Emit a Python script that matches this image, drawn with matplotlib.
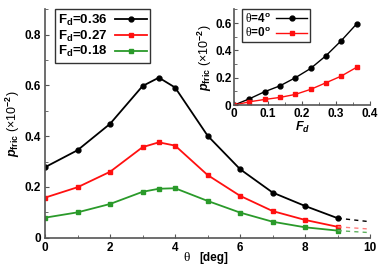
import matplotlib
matplotlib.use("Agg")
import matplotlib.pyplot as plt
from matplotlib.ticker import MultipleLocator

theta = [0, 1, 2, 3, 3.5, 4, 5, 6, 7, 8, 9]
p36 = [0.278, 0.345, 0.449, 0.598, 0.631, 0.592, 0.402, 0.270, 0.178, 0.125, 0.077]
p27 = [0.158, 0.199, 0.260, 0.357, 0.376, 0.363, 0.247, 0.165, 0.105, 0.070, 0.043]
p18 = [0.079, 0.100, 0.133, 0.181, 0.193, 0.195, 0.145, 0.099, 0.063, 0.041, 0.028]
ext_theta = [9, 10]
ext36 = [0.077, 0.063]
ext27 = [0.043, 0.034]
ext18 = [0.028, 0.020]

fd = [0, 0.045, 0.09, 0.135, 0.18, 0.225, 0.27, 0.315, 0.36]
p_t4 = [0, 0.046, 0.098, 0.141, 0.200, 0.268, 0.361, 0.471, 0.593]
p_t0 = [0, 0.024, 0.041, 0.056, 0.078, 0.115, 0.163, 0.212, 0.276]

plt.rcParams['font.family'] = ['Liberation Sans', 'DejaVu Sans']
plt.rcParams['font.weight'] = 'bold'
plt.rcParams['mathtext.fontset'] = 'custom'
plt.rcParams['mathtext.rm'] = 'Liberation Sans:bold'
plt.rcParams['mathtext.it'] = 'Liberation Sans:bold:italic'
plt.rcParams['mathtext.bf'] = 'Liberation Sans:bold'
plt.rcParams['mathtext.cal'] = 'Liberation Serif:weight=normal'

fig = plt.figure(figsize=(3.82, 2.68), dpi=100)
ax = fig.add_axes([0.118, 0.113, 0.851, 0.852])

green = '#2a9a2a'
ax.plot(theta, p36, '-o', color='black', ms=3.5, lw=1.3, label=r'F$_{\mathbf{d}}$=0.36')
ax.plot(theta, p27, '-s', color='#ff1010', ms=3.5, lw=1.3, label=r'F$_{\mathbf{d}}$=0.27')
ax.plot(theta, p18, '-s', color=green, ms=3.5, lw=1.3, label=r'F$_{\mathbf{d}}$=0.18')
ax.plot(ext_theta, ext36, '--', color='black', lw=1.0, dashes=(3, 3))
ax.plot(ext_theta, ext27, '--', color='#ff8080', lw=1.0, dashes=(3, 3))
ax.plot(ext_theta, ext18, '--', color='#60b060', lw=1.0, dashes=(3, 3))

ax.set_xlim(0, 10)
ax.set_ylim(0, 0.9)
ax.xaxis.set_major_locator(MultipleLocator(2))
ax.xaxis.set_minor_locator(MultipleLocator(1))
ax.yaxis.set_minor_locator(MultipleLocator(0.1))
ax.set_yticks([0, 0.2, 0.4, 0.6, 0.8])
ax.set_yticklabels(['0', '0.2', '0.4', '0.6', '0.8'])
for s in ['top', 'right']:
    ax.spines[s].set_visible(False)
for s in ['left', 'bottom']:
    ax.spines[s].set_color('#555555')
    ax.spines[s].set_linewidth(1.2)
ax.tick_params(direction='in', which='both', labelsize=8.5, length=3, color='#555555', pad=3)
ax.tick_params(which='minor', length=2)
for lab in ax.get_xticklabels() + ax.get_yticklabels():
    lab.set_fontweight('bold')

# x label: serif theta + bold sans [deg]
fig.text(0.497, 0.015, 'θ', family='Liberation Serif', fontweight='normal', fontsize=9.5,
         ha='right', va='bottom')
fig.text(0.522, 0.015, '[deg]', fontsize=8.5, fontweight='bold', ha='left', va='bottom')
ax.set_ylabel(r'$p_{\mathrm{fric}}$ (×10$^{-2}$)', fontsize=9, labelpad=2)

leg = ax.legend(loc='upper left', bbox_to_anchor=(0.03, 1.0), fontsize=9.5, frameon=True,
                fancybox=False, edgecolor='black', handlelength=2.4, borderpad=0.25,
                labelspacing=0.05, handletextpad=0.6, borderaxespad=0.0, markerfirst=False)
leg.get_frame().set_linewidth(1.0)

ins = fig.add_axes([0.613, 0.608, 0.356, 0.357])
ins.plot(fd, p_t4, '-o', color='black', ms=3.5, lw=1.0, label=r'$\mathcal{θ}$=4$^{\mathrm{o}}$')
ins.plot(fd, p_t0, '-s', color='#ff1010', ms=3.5, lw=1.0, label=r'$\mathcal{θ}$=0$^{\mathrm{o}}$')
ins.set_xlim(0, 0.4)
ins.set_ylim(0, 0.7)
ins.xaxis.set_minor_locator(MultipleLocator(0.05))
ins.yaxis.set_minor_locator(MultipleLocator(0.1))
ins.set_xticks([0, 0.1, 0.2, 0.3, 0.4])
ins.set_xticklabels(['0', '0.1', '0.2', '0.3', '0.4'])
ins.set_yticks([0, 0.2, 0.4, 0.6])
ins.set_yticklabels(['0', '0.2', '0.4', '0.6'])
for s in ['top', 'right']:
    ins.spines[s].set_visible(False)
for s in ['left', 'bottom']:
    ins.spines[s].set_color('#555555')
    ins.spines[s].set_linewidth(1.2)
ins.tick_params(direction='in', which='both', labelsize=8.5, length=3, color='#555555', pad=2)
ins.tick_params(which='minor', length=2)
for lab in ins.get_xticklabels() + ins.get_yticklabels():
    lab.set_fontweight('bold')
ins.set_xlabel(r'$F_d$', fontsize=9, labelpad=0)
ins.set_ylabel(r'$p_{\mathrm{fric}}$ (×10$^{-2}$)', fontsize=9, labelpad=1)
leg2 = ins.legend(loc='upper left', bbox_to_anchor=(0.06, 1.0), fontsize=8.5, frameon=True,
                  fancybox=False, edgecolor='black', handlelength=2.6, borderpad=0.2,
                  labelspacing=0.05, handletextpad=0.5, borderaxespad=0.0, markerfirst=False)
leg2.get_frame().set_linewidth(1.0)

fig.savefig('out.png', dpi=100)
